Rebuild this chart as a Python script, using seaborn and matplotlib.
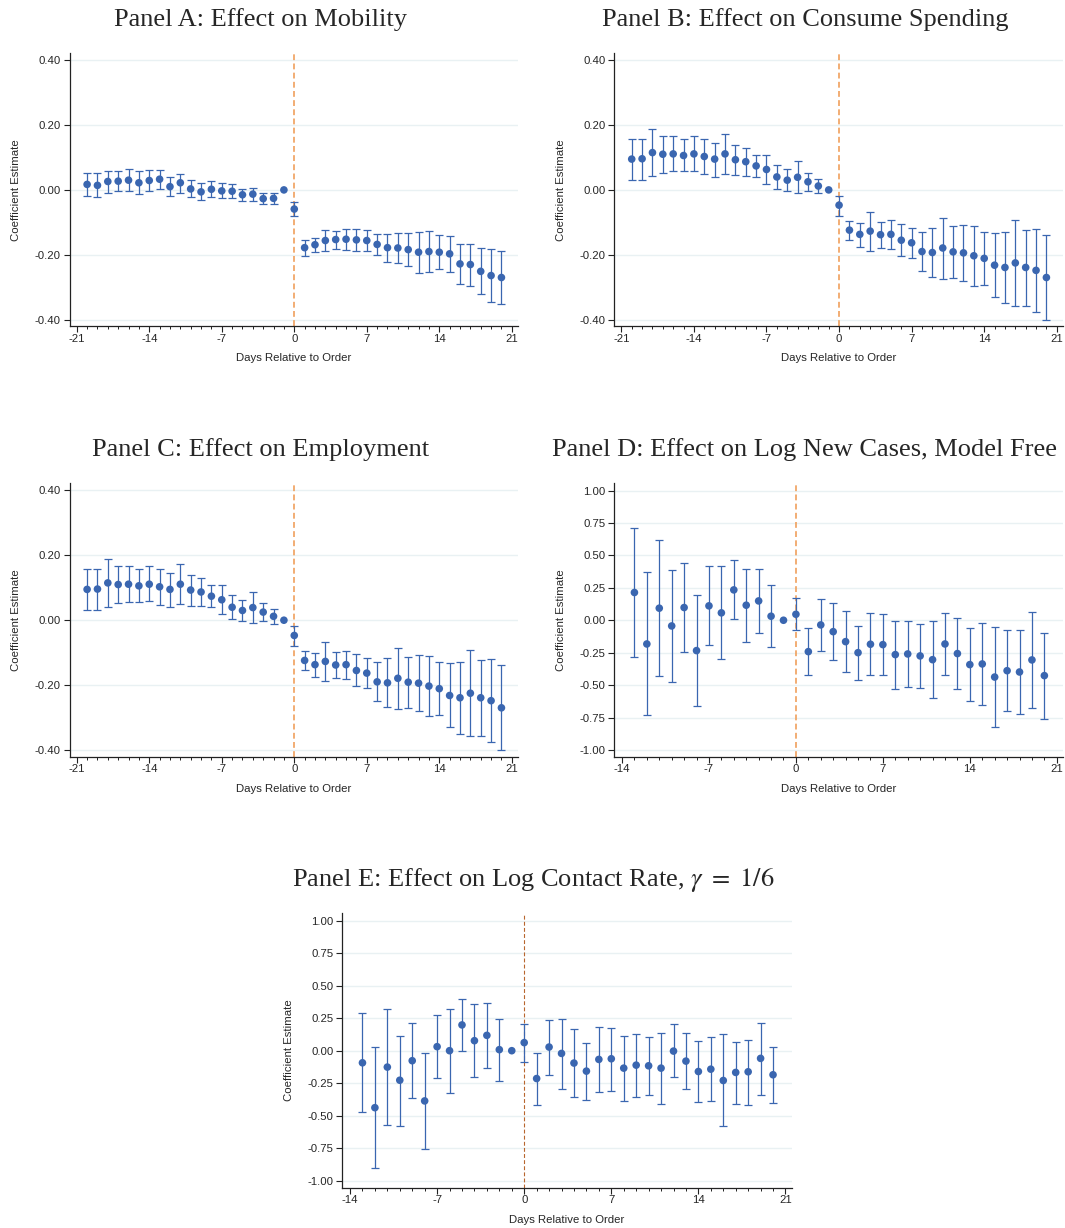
import numpy as np
import seaborn as sns
import matplotlib.pyplot as plt
from matplotlib.ticker import MultipleLocator, FormatStrFormatter

# Event days
days_long = list(range(-20, 21))
days_short = list(range(-13, 21))

# Panel A: mobility
mob_coef = [0.017, 0.014, 0.026, 0.027, 0.030, 0.022, 0.029, 0.033, 0.010, 0.022,
            0.003, -0.006, 0.002, -0.003, -0.004, -0.015, -0.013, -0.027, -0.026, 0.0,
            -0.059, -0.178, -0.169, -0.156, -0.153, -0.152, -0.154, -0.156, -0.168, -0.178,
            -0.179, -0.184, -0.192, -0.190, -0.192, -0.197, -0.228, -0.230, -0.251, -0.264, -0.270]
mob_hi = [0.052, 0.052, 0.059, 0.059, 0.063, 0.057, 0.061, 0.062, 0.039, 0.050,
          0.030, 0.020, 0.026, 0.020, 0.018, 0.003, 0.007, -0.011, -0.011, np.nan,
          -0.036, -0.154, -0.147, -0.125, -0.127, -0.121, -0.121, -0.125, -0.135, -0.135,
          -0.133, -0.133, -0.129, -0.126, -0.138, -0.141, -0.167, -0.166, -0.178, -0.182, -0.188]
mob_lo = [-0.018, -0.022, -0.008, -0.004, -0.004, -0.013, -0.004, 0.003, -0.018, -0.008,
          -0.023, -0.032, -0.022, -0.026, -0.026, -0.035, -0.033, -0.044, -0.042, np.nan,
          -0.080, -0.203, -0.191, -0.187, -0.181, -0.185, -0.187, -0.187, -0.202, -0.221,
          -0.225, -0.234, -0.255, -0.253, -0.244, -0.252, -0.289, -0.295, -0.322, -0.345, -0.352]

# Panel B: consumer spending (panel C shows the same estimates)
spend_coef = [0.095, 0.096, 0.115, 0.110, 0.111, 0.106, 0.111, 0.103, 0.095, 0.111,
              0.093, 0.087, 0.074, 0.063, 0.040, 0.030, 0.039, 0.025, 0.012, 0.0,
              -0.047, -0.124, -0.137, -0.127, -0.138, -0.137, -0.155, -0.163, -0.190, -0.193,
              -0.179, -0.191, -0.194, -0.203, -0.211, -0.232, -0.239, -0.225, -0.239, -0.248, -0.270]
spend_hi = [0.157, 0.158, 0.188, 0.167, 0.167, 0.157, 0.167, 0.158, 0.145, 0.173,
            0.139, 0.129, 0.108, 0.108, 0.077, 0.063, 0.088, 0.053, 0.035, np.nan,
            -0.018, -0.095, -0.101, -0.068, -0.099, -0.094, -0.105, -0.117, -0.130, -0.118,
            -0.086, -0.112, -0.107, -0.111, -0.130, -0.133, -0.130, -0.092, -0.123, -0.121, -0.139]
spend_lo = [0.032, 0.032, 0.042, 0.052, 0.057, 0.057, 0.058, 0.048, 0.041, 0.049,
            0.045, 0.043, 0.041, 0.018, 0.003, -0.002, -0.008, -0.002, -0.011, np.nan,
            -0.079, -0.154, -0.175, -0.187, -0.179, -0.182, -0.204, -0.210, -0.250, -0.268,
            -0.274, -0.270, -0.280, -0.296, -0.293, -0.330, -0.350, -0.358, -0.357, -0.376, -0.401]

emp_coef, emp_hi, emp_lo = spend_coef, spend_hi, spend_lo

# Panel D: log new cases
cases_coef = [0.214, -0.183, 0.093, -0.044, 0.098, -0.234, 0.111, 0.057, 0.234, 0.116,
              0.149, 0.031, 0.0, 0.046, -0.242, -0.036, -0.088, -0.165, -0.250, -0.185,
              -0.188, -0.265, -0.260, -0.275, -0.304, -0.183, -0.257, -0.342, -0.337, -0.438,
              -0.389, -0.399, -0.306, -0.427]
cases_hi = [0.713, 0.371, 0.615, 0.384, 0.440, 0.198, 0.417, 0.417, 0.461, 0.399,
            0.396, 0.270, np.nan, 0.170, -0.059, 0.167, 0.136, 0.068, -0.041, 0.059,
            0.049, -0.003, -0.003, -0.031, -0.005, 0.059, 0.015, -0.062, -0.021, -0.051,
            -0.077, -0.077, 0.064, -0.095]
cases_lo = [-0.283, -0.734, -0.430, -0.474, -0.242, -0.664, -0.193, -0.301, 0.008, -0.170,
            -0.098, -0.208, np.nan, -0.077, -0.425, -0.239, -0.309, -0.396, -0.458, -0.425,
            -0.425, -0.528, -0.512, -0.520, -0.602, -0.422, -0.530, -0.625, -0.656, -0.824,
            -0.698, -0.721, -0.674, -0.762]

# Panel E: log contact rate
contact_coef = [-0.093, -0.438, -0.126, -0.227, -0.077, -0.386, 0.031, 0.000, 0.198, 0.077,
                0.118, 0.008, 0.0, 0.062, -0.214, 0.028, -0.021, -0.095, -0.157, -0.067,
                -0.062, -0.134, -0.111, -0.116, -0.134, -0.003, -0.080, -0.160, -0.142, -0.229,
                -0.167, -0.162, -0.059, -0.185]
contact_hi = [0.286, 0.026, 0.319, 0.113, 0.216, -0.015, 0.273, 0.322, 0.399, 0.358,
              0.363, 0.247, np.nan, 0.208, -0.018, 0.239, 0.245, 0.167, 0.062, 0.183,
              0.178, 0.116, 0.131, 0.103, 0.139, 0.203, 0.134, 0.075, 0.108, 0.126,
              0.069, 0.085, 0.214, 0.028]
contact_lo = [-0.474, -0.903, -0.571, -0.579, -0.366, -0.754, -0.211, -0.322, 0.000, -0.206,
              -0.134, -0.234, np.nan, -0.085, -0.414, -0.190, -0.291, -0.355, -0.378, -0.319,
              -0.306, -0.384, -0.353, -0.340, -0.409, -0.206, -0.296, -0.394, -0.389, -0.582,
              -0.407, -0.414, -0.337, -0.402]

sns.set_theme(style="white")
plt.rcParams['font.family'] = ['Liberation Sans', 'DejaVu Sans']
plt.rcParams['mathtext.fontset'] = 'stix'
plt.rcParams['axes.unicode_minus'] = False

BLUE = '#3a66b0'
FS = 8.2

fig = plt.figure(figsize=(10.65, 12.28), dpi=100)


def panel(rect, title, days, coef, lo, hi, xlim, ylim, xticks, yticks, vcolor, vlw):
    ax = fig.add_axes(rect)
    days = np.array(days)
    coef = np.array(coef)
    lo = np.array(lo)
    hi = np.array(hi)
    ok = ~np.isnan(lo)

    for y in yticks:
        ax.axhline(y, color='#e9f1f3', lw=1.0, zorder=0)
    ax.axvline(0, color=vcolor, lw=vlw, ls=(0, (3.5, 2)), zorder=1)

    ax.errorbar(days[ok], coef[ok], yerr=[coef[ok] - lo[ok], hi[ok] - coef[ok]],
                fmt='none', ecolor=BLUE, elinewidth=0.9, capsize=2.8, capthick=0.9, zorder=2)
    sns.scatterplot(x=days, y=coef, ax=ax, color=BLUE, s=30, edgecolor='none',
                    linewidth=0, zorder=3)

    ax.set_xlim(*xlim)
    ax.set_ylim(*ylim)
    ax.set_xticks(xticks)
    ax.set_yticks(yticks)
    ax.xaxis.set_minor_locator(MultipleLocator(1))
    ax.yaxis.set_major_formatter(FormatStrFormatter('%.2f'))
    ax.tick_params(axis='both', which='major', direction='out', length=4, width=0.8,
                   labelsize=FS, color='#222222', pad=2.5, bottom=True, left=True)
    ax.tick_params(axis='x', which='major', pad=1.5)
    ax.tick_params(axis='x', which='minor', direction='out', length=2.2, width=0.7,
                   color='#222222', bottom=True)
    for s in ['top', 'right']:
        ax.spines[s].set_visible(False)
    for s in ['left', 'bottom']:
        ax.spines[s].set_color('#222222')
        ax.spines[s].set_linewidth(0.9)

    ax.set_xlabel('Days Relative to Order', fontsize=FS)
    ax.set_ylabel('Coefficient Estimate', fontsize=FS)
    ax.xaxis.set_label_coords(0.5, -0.098)
    ax.yaxis.set_label_coords(-0.108, 0.5)
    ax.text(0.425, 1.122, title, transform=ax.transAxes, ha='center', va='center',
            fontsize=19, family=['Liberation Serif', 'DejaVu Serif'])
    return ax


W, H = 1065.0, 1228.0


def rect(left, right, top, bottom):
    return [left / W, 1 - bottom / H, (right - left) / W, (bottom - top) / H]


long_x = (-21.68, 21.6)
short_x = (-14.62, 21.5)
small_y = (-0.421, 0.422)
big_y = (-1.053, 1.056)
ticks_long = [-21, -14, -7, 0, 7, 14, 21]
ticks_short = [-14, -7, 0, 7, 14, 21]
yt_small = [-0.4, -0.2, 0.0, 0.2, 0.4]
yt_big = [-1.0, -0.75, -0.5, -0.25, 0.0, 0.25, 0.5, 0.75, 1.0]
ORANGE = '#f0a05c'

panel(rect(69.7, 518, 53, 326.5), 'Panel A: Effect on Mobility', days_long,
      mob_coef, mob_lo, mob_hi, long_x, small_y, ticks_long, yt_small, ORANGE, 1.2)
panel(rect(614.3, 1063, 53, 326.5), 'Panel B: Effect on Consume Spending', days_long,
      spend_coef, spend_lo, spend_hi, long_x, small_y, ticks_long, yt_small, ORANGE, 1.2)
panel(rect(69.7, 518, 483.3, 756.8), 'Panel C: Effect on Employment', days_long,
      emp_coef, emp_lo, emp_hi, long_x, small_y, ticks_long, yt_small, ORANGE, 1.2)
panel(rect(614.3, 1063, 483.3, 756.8), 'Panel D: Effect on Log New Cases, Model Free', days_short,
      cases_coef, cases_lo, cases_hi, short_x, big_y, ticks_short, yt_big, ORANGE, 1.2)
panel(rect(342.3, 791.7, 913.3, 1187.7), r'Panel E: Effect on Log Contact Rate, $\gamma\ =\ 1/6$', days_short,
      contact_coef, contact_lo, contact_hi, short_x, big_y, ticks_short, yt_big, '#b8662e', 0.8)

fig.savefig('out.png', dpi=100, facecolor='white')
